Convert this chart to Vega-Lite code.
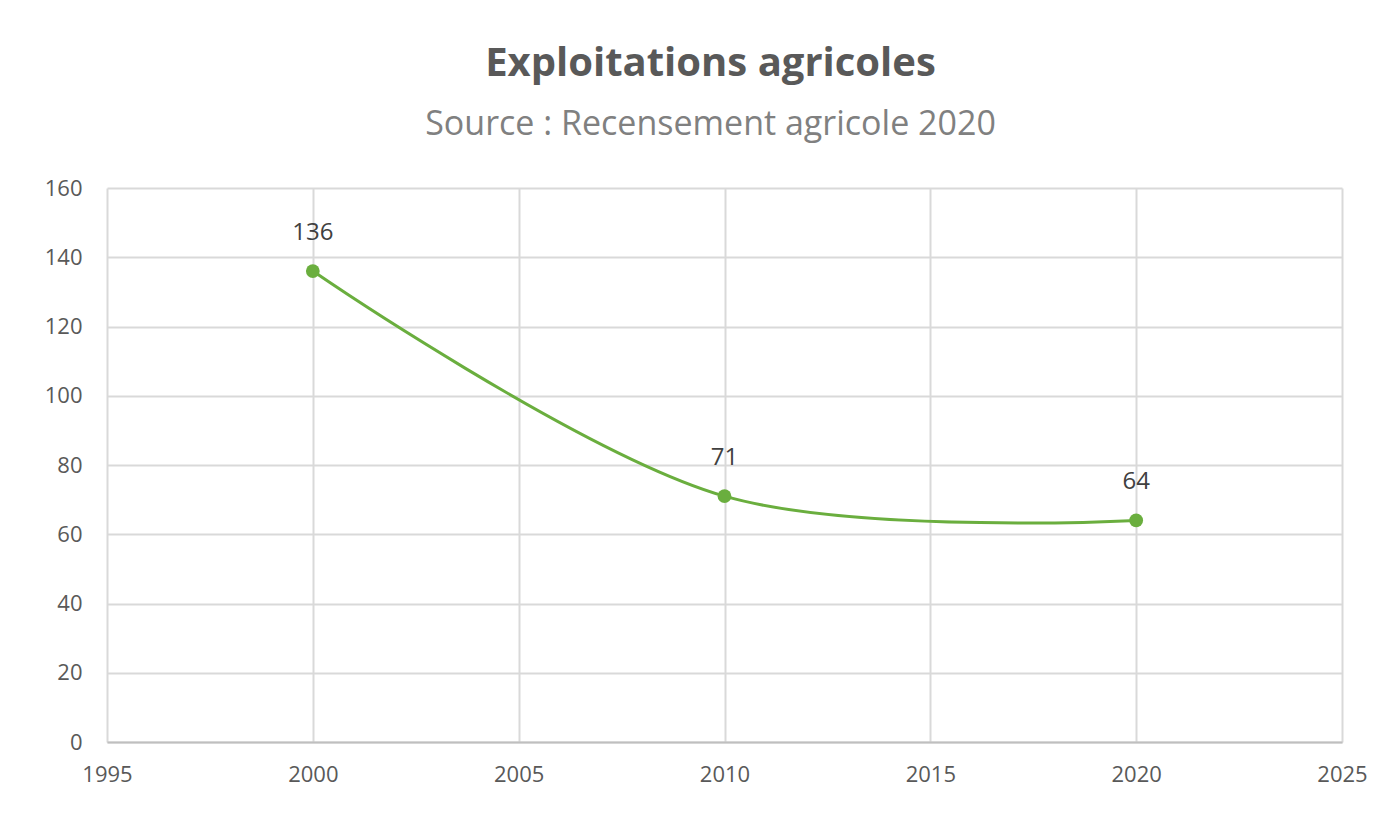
{
  "$schema": "https://vega.github.io/schema/vega-lite/v6.json",
  "autosize": {"type": "none"},
  "width": 1235,
  "height": 554,
  "padding": {"left": 107, "top": 188, "right": 50, "bottom": 72},
  "background": "white",
  "title": {
    "text": "Exploitations agricoles",
    "subtitle": "Source : Recensement agricole 2020",
    "anchor": "middle",
    "dx": -14,
    "offset": 35,
    "font": "Open Sans",
    "fontSize": 40,
    "fontWeight": "bold",
    "color": "#595959",
    "subtitleFont": "Open Sans",
    "subtitleFontSize": 34,
    "subtitleColor": "#808080",
    "subtitlePadding": 24
  },
  "config": {
    "view": {"stroke": null},
    "axis": {
      "labelFont": "Open Sans",
      "labelFontSize": 22,
      "labelColor": "#595959",
      "gridColor": "#d9d9d9",
      "gridWidth": 2,
      "ticks": false,
      "title": null
    }
  },
  "data": {
    "values": [
      {"annee": 2000, "exploitations": 136},
      {"annee": 2010, "exploitations": 71},
      {"annee": 2020, "exploitations": 64}
    ]
  },
  "encoding": {
    "x": {
      "field": "annee",
      "type": "quantitative",
      "scale": {"domain": [1995, 2025], "nice": false, "zero": false},
      "axis": {"values": [1995, 2000, 2005, 2010, 2015, 2020, 2025], "format": "d", "labelPadding": 22, "domainColor": "#bfbfbf", "domainWidth": 2, "labelFlush": false}
    },
    "y": {
      "field": "exploitations",
      "type": "quantitative",
      "scale": {"domain": [0, 160], "nice": false},
      "axis": {"values": [0, 20, 40, 60, 80, 100, 120, 140, 160], "labelPadding": 25, "domain": false}
    }
  },
  "layer": [
    {"mark": {"type": "line", "interpolate": "catmull-rom", "color": "#6aae3e", "strokeWidth": 3}},
    {"mark": {"type": "point", "filled": true, "opacity": 1, "color": "#6aae3e", "size": 190}},
    {
      "mark": {"type": "text", "dy": -38, "font": "Open Sans", "fontSize": 24, "color": "#404040"},
      "encoding": {"text": {"field": "exploitations", "type": "quantitative"}}
    }
  ]
}
